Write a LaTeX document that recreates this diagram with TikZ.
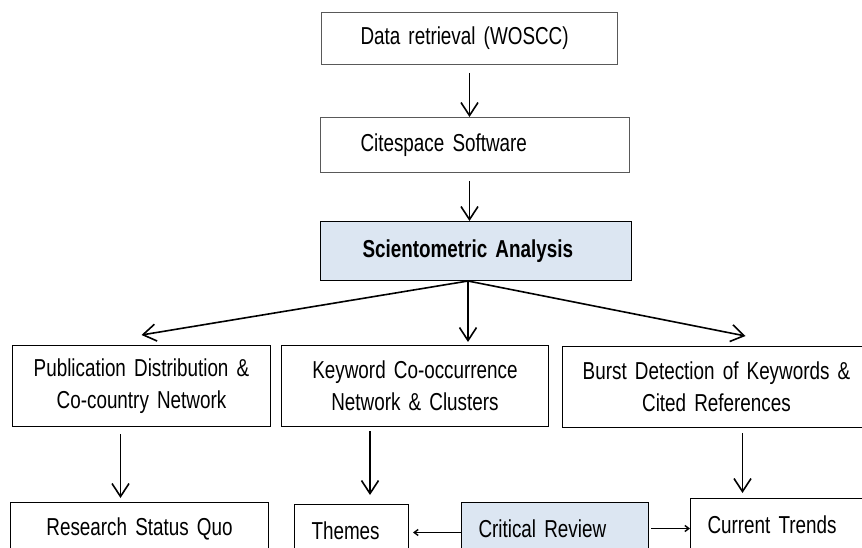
\documentclass[tikz,border=0pt]{standalone}
\usepackage{fontspec}
\setmainfont{Liberation Sans}[FakeStretch=0.77]
\usetikzlibrary{arrows.meta}
\definecolor{reviewblue}{RGB}{220,230,242}
\newcommand{\boxfont}{\fontsize{24.5}{32}\selectfont}
\tikzset{
  box/.style={draw, rectangle, anchor=north west, inner ysep=0pt, line width=1pt},
  lbox/.style={box, align=left},
  cbox/.style={box, align=center, inner xsep=0pt},
  arr/.style={-{Straight Barb[length=13pt,width=17pt]}, line width=1.6pt},
  sarr/.style={-{Straight Barb[length=4pt,width=6pt]}, line width=1.4pt},
}
\begin{document}
\begin{tikzpicture}[x=1pt, y=-1pt, every node/.style={font=\boxfont}]
      \clip (0,0) rectangle (862,548);
      % workflow boxes
      \node[lbox, draw=black!65, inner xsep=39pt, text width=218pt, minimum height=52pt] (retr) at (321,12) {Data retrieval (WOSCC)};
      \node[lbox, draw=black!65, inner xsep=40pt, text width=229pt, minimum height=55pt] (cite) at (320,117) {Citespace Software};
      \node[lbox, fill=reviewblue, inner xsep=42pt, text width=227pt, minimum height=59pt] (sci) at (320,221) {\bfseries Scientometric Analysis};
      \node[cbox, text width=258pt, minimum height=81pt] (pub) at (12,345) {Publication Distribution \&\\Co-country Network};
      \node[cbox, text width=267pt, minimum height=81pt] (key) at (281,345) {Keyword Co-occurrence\\Network \& Clusters};
      \node[cbox, text width=308pt, minimum height=81pt] (burst) at (562,346) {Burst Detection of Keywords \&\\Cited References};
      \node[cbox, text width=258pt, minimum height=52pt] (stat) at (10,502) {Research Status Quo};
      \node[lbox, inner xsep=17pt, text width=80pt, minimum height=52pt] (themes) at (294,504) {Themes};
      \node[lbox, fill=reviewblue, inner xsep=17pt, text width=153pt, minimum height=52pt] (crit) at (461,502) {Critical Review};
      \node[lbox, inner xsep=17pt, text width=156pt, minimum height=52pt] (trend) at (690,498) {Current Trends};
      \coordinate (fork) at ([xshift=-8pt]sci.south);
      % arrows
      \draw[arr, shorten <=8pt] (retr.south) -- (retr.south |- cite.north);
      \draw[arr, shorten <=8pt] (retr.south |- cite.south) -- (retr.south |- sci.north);
      \draw[arr] (fork) -- ([yshift=10pt]pub.north);
      \draw[arr, shorten >=3pt] (fork) -- (fork |- key.north);
      \draw[arr] (fork) -- ([xshift=29pt,yshift=10pt]burst.north);
      \draw[arr, shorten <=7pt, shorten >=4pt] ([xshift=-21pt]pub.south) -- ([xshift=-21pt]pub.south |- stat.north);
      \draw[arr, shorten <=4pt, shorten >=9pt] ([xshift=-45pt]key.south) -- ([xshift=-45pt]key.south |- themes.north);
      \draw[arr, shorten <=5pt, shorten >=5pt] ([xshift=26pt]burst.south) -- ([xshift=26pt]burst.south |- trend.north);
      \draw[sarr, shorten >=4pt] ([yshift=-4pt]crit.west) -- ([yshift=-4pt]crit.west -| themes.east);
      \draw[sarr, shorten <=2pt] (crit.east) -- (crit.east -| trend.west);
\end{tikzpicture}
\end{document}
